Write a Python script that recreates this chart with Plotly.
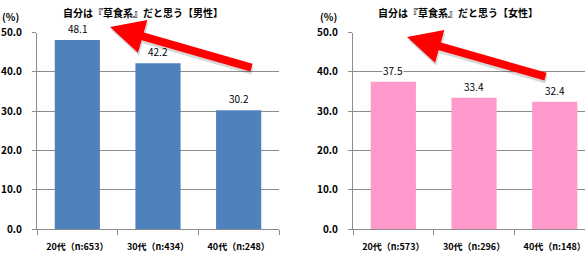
import plotly.graph_objects as go

categories_m = ["20代（n:653）", "30代（n:434）", "40代（n:248）"]
values_m = [48.1, 42.2, 30.2]
categories_f = ["20代（n:573）", "30代（n:296）", "40代（n:148）"]
values_f = [37.5, 33.4, 32.4]
title_m = "自分は『草食系』だと思う【男性】"
title_f = "自分は『草食系』だと思う【女性】"
yticks = [0, 10, 20, 30, 40, 50]
ytick_text = ["0.0", "10.0", "20.0", "30.0", "40.0", "50.0"]

W, H = 585, 257
FONT = "Noto Sans CJK JP"
BLUE = "#4F81BD"
PINK = "#FF99CC"
GRID = "#8C8C8C"

fig = go.Figure()
fig.add_trace(go.Bar(x=categories_m, y=values_m, marker=dict(color=BLUE, line=dict(width=0)),
                     xaxis="x", yaxis="y", hoverinfo="skip"))
fig.add_trace(go.Bar(x=categories_f, y=values_f, marker=dict(color=PINK, line=dict(width=0)),
                     xaxis="x2", yaxis="y2", hoverinfo="skip"))

def px(v):
    return v / W
def py(v):
    return 1 - v / H

ydom = [py(229), py(32.5)]
tickfont_y = dict(family=FONT, size=10, color="#000000")
tickfont_x = dict(family=FONT, size=9, color="#000000")

common_y = dict(range=[0, 50], tickvals=yticks, ticktext=[f"<b>{t}</b>" for t in ytick_text],
                showgrid=True, gridcolor=GRID, gridwidth=1, showline=True, linecolor=GRID,
                linewidth=1, ticks="outside", ticklen=4, tickcolor=GRID, tickfont=tickfont_y,
                zeroline=False, fixedrange=True, ticklabelstandoff=8, automargin=False)
common_x = dict(type="category", showline=True, linecolor=GRID, linewidth=1, ticks="outside",
                tickson="boundaries", ticklen=5, tickcolor=GRID, tickfont=tickfont_x,
                showgrid=False, fixedrange=True, tickangle=0, automargin=False,
                ticklabelstandoff=9)

fig.update_layout(
    width=W, height=H, margin=dict(l=0, r=0, t=0, b=0, autoexpand=False),
    paper_bgcolor="white", plot_bgcolor="white", showlegend=False,
    bargap=0.44,
    xaxis=dict(domain=[px(37), px(279)], range=[-0.5, 2.5], anchor="y",
               tickvals=categories_m, ticktext=[f"<b>{c}</b>" for c in categories_m], **common_x),
    yaxis=dict(domain=ydom, anchor="x", **common_y),
    xaxis2=dict(domain=[px(353), 1.0], range=[-0.5, 2.375], anchor="y2",
                tickvals=categories_f, ticktext=[f"<b>{c}</b>" for c in categories_f], **common_x),
    yaxis2=dict(domain=ydom, anchor="x2", **common_y),
)

ann = []
# data labels with white background
for xa, ya, cats, vals in (("x", "y", categories_m, values_m), ("x2", "y2", categories_f, values_f)):
    for c, v in zip(cats, vals):
        ann.append(dict(x=c, y=v, xref=xa, yref=ya, text=f"{v:.1f}", showarrow=False,
                        xanchor="center", yanchor="bottom", yshift=3, bgcolor="white",
                        borderpad=0, font=dict(family=FONT, size=10, color="#000000")))
# titles
for xc, t in ((143, title_m), (458, title_f)):
    ann.append(dict(x=px(xc), y=py(12), xref="paper", yref="paper", text=f"<b>{t}</b>",
                    xanchor="center", yanchor="middle", showarrow=False,
                    font=dict(family=FONT, size=10, color="#000")))
# (%) labels
for xc in (10, 328):
    ann.append(dict(x=px(xc), y=py(16), xref="paper", yref="paper", text="<b>(%)</b>",
                    xanchor="center", yanchor="middle", showarrow=False,
                    font=dict(family=FONT, size=10, color="#000")))
# red arrows (with subtle shadow)
for (hx, hy, tx, ty) in ((110, 27, 253, 68), (407, 37, 547, 77)):
    ann.append(dict(x=px(hx + 1), y=py(hy + 3), xref="paper", yref="paper", text="",
                    showarrow=True, ax=tx - hx, ay=ty - hy, arrowhead=2, arrowsize=0.85,
                    arrowwidth=8, arrowcolor="rgba(0,0,0,0.15)", standoff=0))
    ann.append(dict(x=px(hx), y=py(hy), xref="paper", yref="paper", text="",
                    showarrow=True, ax=tx - hx, ay=ty - hy, arrowhead=2, arrowsize=0.85,
                    arrowwidth=8, arrowcolor="#FF0000", standoff=0))
fig.update_layout(annotations=ann)

fig.write_html("out.html", config={"displayModeBar": False})
